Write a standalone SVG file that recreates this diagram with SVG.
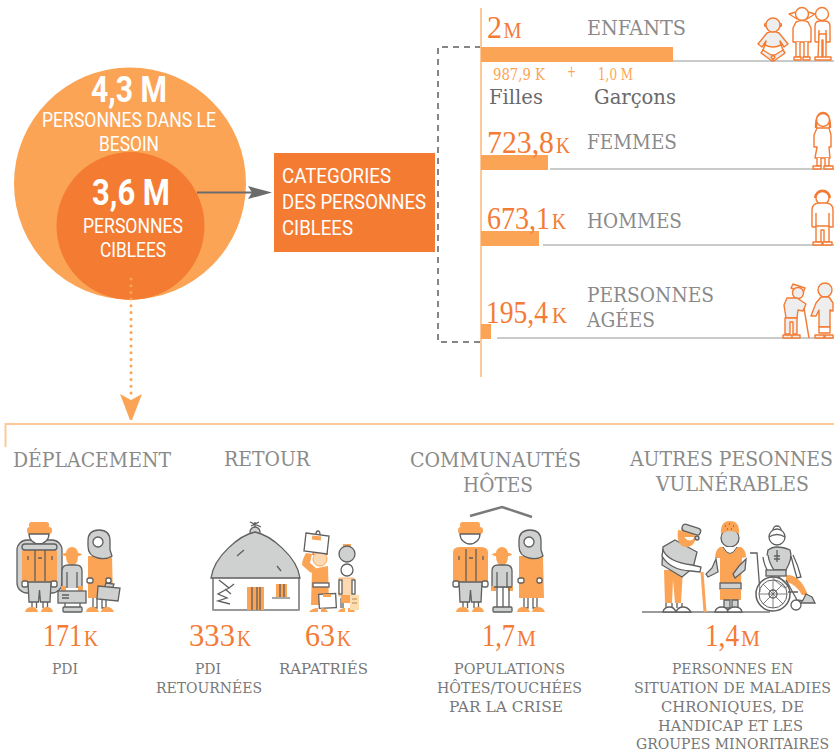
<svg xmlns="http://www.w3.org/2000/svg" xmlns:xlink="http://www.w3.org/1999/xlink" width="834" height="753" viewBox="0 0 834 753">
<style>
text{font-family:"DejaVu Serif Condensed","DejaVu Serif","Liberation Serif",serif;font-stretch:condensed}
.r{font-family:Roboto,"Liberation Sans",sans-serif;fill:#fff;font-stretch:normal}
.rb{font-weight:700;font-size:36px}
.rl{font-weight:400;font-size:20.5px}
.h{font-size:20.5px;fill:#8a8a8a}
.s{font-size:14.5px;fill:#777}
.n{font-family:"Liberation Serif",serif;font-size:32px;fill:#f47b35;font-stretch:normal}
.n2{font-size:24px}
.m{font-size:16px;fill:#fca455}
.lg{font-size:21px;fill:#6a6a6a}
.a{fill:#fca455}.d{fill:#f47b32}
.g{fill:#cfd0d0;stroke:#5f5f5f;stroke-width:1.3}
.w{fill:#fff;stroke:#5f5f5f;stroke-width:1.3}
.o{fill:#fca455}
.ol{fill:#eee;stroke:#f47b32;stroke-width:1.4;stroke-linejoin:round}
.ow{fill:#fff;stroke:#f47b32;stroke-width:1.4;stroke-linejoin:round}
.ln{fill:none;stroke:#5f5f5f;stroke-width:1.3}
.gl{fill:none;stroke:#c9cbcb;stroke-width:2}
.pl{fill:none;stroke:#fdc999;stroke-width:2}
</style>
<defs>
<g id="man">
<rect x="29" y="522" width="20" height="6" rx="2.500" class="o"/>
<rect x="27" y="527" width="25" height="7" rx="3" class="o"/>
<path d="M29,534 A10,10 0 0 0 49,534 Z" class="w"/>
<path d="M22,582 V552 Q22,547 30,547 L49,547 Q57,547 57,552 L57,582 Z" class="o"/>
<path d="M35,549 V581 M45,549 V581 M28,556 V560 M52,556 V560 M38,558 H42" class="ln"/>
<rect x="22" y="581" width="6" height="6" rx="2" class="w"/><rect x="51" y="581" width="6" height="6" rx="2" class="w"/>
<path d="M28,582 H51 L50,602 H40.500 L39.500,590 L38.500,602 H29 Z" class="g"/>
<path d="M32,602 V608 M36.500,602 V608 M43,602 V608 M47.500,602 V608" class="ln"/>
<path d="M25,612 Q26,607 32,607 Q37,607 38,612 Z M41,612 Q42,607 47,607 Q52,607 53,612 Z" class="o"/>
</g>
<g id="child">
<path d="M66,553 A6,6 0 0 1 78,553 Z" class="o"/>
<ellipse cx="72" cy="554.500" rx="10" ry="2" class="o"/>
<path d="M66,556 H78 Q78,565 72,565 Q66,565 66,556 Z" class="o"/>
<path d="M62,588 V571 Q62,565 68,565 H76 Q82,565 82,571 V588" class="g"/>
<path d="M67,572 V588 M77,572 V588" class="ln"/>
<rect x="61" y="586" width="5" height="5" class="o"/><rect x="78" y="586" width="5" height="5" class="o"/>
</g>
<g id="woman">
<path d="M88,556 H112 L113,598 H88 Z" class="o"/>
<path d="M88,546 V541 Q88,530 99,530 Q110,530 110,541 V550 L112,556 Q106,560 98,558 Q88,556 88,546 Z" class="g"/>
<circle cx="98" cy="542" r="5" class="w"/>
<rect x="87" y="578" width="6" height="5" rx="2" class="w"/>
<rect x="106" y="578" width="5" height="5" rx="2" class="w"/>
<path d="M93,598 V608 H97 V598 M102,598 V608 H106 V598" class="w"/>
<path d="M86,612 Q87,607 92,607 Q97,607 99,612 Z M101,612 Q102,607 107,607 Q112,607 114,612 Z" class="o"/>
</g>
</defs>

<g id="circle-besoin">
<circle cx="130" cy="183.500" r="116" class="a"/>
<text x="91" y="102" class="r rb" textLength="76" lengthAdjust="spacingAndGlyphs">4,3 M</text>
<text x="42" y="127" class="r rl" textLength="174" lengthAdjust="spacingAndGlyphs">PERSONNES DANS LE</text>
<text x="99" y="151" class="r rl" textLength="60" lengthAdjust="spacingAndGlyphs">BESOIN</text>
</g>
<g id="circle-ciblees">
<circle cx="130.500" cy="226" r="74" class="d"/>
<text x="92" y="205" class="r rb" textLength="78" lengthAdjust="spacingAndGlyphs">3,6 M</text>
<text x="83" y="233" class="r rl" textLength="100" lengthAdjust="spacingAndGlyphs">PERSONNES</text>
<text x="100" y="257" class="r rl" textLength="66" lengthAdjust="spacingAndGlyphs">CIBLEES</text>
</g>
<g id="categories">
<rect x="274" y="153" width="161" height="99" class="d"/>
<text x="282" y="183" class="r rl" textLength="109" lengthAdjust="spacingAndGlyphs" font-weight="300">CATEGORIES</text>
<text x="282" y="209" class="r rl" textLength="144" lengthAdjust="spacingAndGlyphs" font-weight="300">DES PERSONNES</text>
<text x="282" y="235" class="r rl" textLength="71" lengthAdjust="spacingAndGlyphs" font-weight="300">CIBLEES</text>
</g>

<g id="connectors">
<path d="M197,192.500 H252" fill="none" stroke="#6b6b6b" stroke-width="2"/>
<path d="M248,186 L272,192.500 L248,199 L252,192.500 Z" fill="#6b6b6b"/>
<path d="M481,47 H438 V342 H481" fill="none" stroke="#5f5f5f" stroke-width="1.500" stroke-dasharray="6 5"/>
<path d="M481,8 V377" class="pl"/>
<path d="M131,279 V396" fill="none" stroke="#fca455" stroke-width="3" stroke-linecap="round" stroke-dasharray="0 6.700"/>
<path d="M120,394 L131,400 L142,394 L132,420 L130,420 Z" class="a"/>
<path d="M5.500,447 V424 H834" class="pl"/>
</g>

<g id="row-enfants">
<path d="M673,61 H834" class="gl"/>
<rect x="481" y="47" width="192" height="15" class="a"/>
<text x="487" y="38" class="n" textLength="15" lengthAdjust="spacingAndGlyphs">2</text>
<text x="503.500" y="38" class="n n2" textLength="18" lengthAdjust="spacingAndGlyphs">M</text>
<text x="587" y="35" class="h" textLength="99" lengthAdjust="spacingAndGlyphs">ENFANTS</text>
<text x="493" y="80" class="m" textLength="52" lengthAdjust="spacingAndGlyphs">987,9 K</text>
<text x="567" y="77" class="m" textLength="9" lengthAdjust="spacingAndGlyphs">+</text>
<text x="598" y="80" class="m" textLength="35" lengthAdjust="spacingAndGlyphs">1,0 M</text>
<text x="489" y="104" class="lg" textLength="54" lengthAdjust="spacingAndGlyphs">Filles</text>
<text x="594" y="104" class="lg" textLength="82" lengthAdjust="spacingAndGlyphs">Garçons</text>
<g id="icon-baby">
<path d="M765,47 L761,53 L772,61 L775,57 L768,52 M781,47 L785,53 L774,61 L771,57 L778,52" class="ol"/>
<path d="M767,33 Q773,30 779,33 L788,44 L784,47 L780,41 L781,46 Q773,50 765,46 L766,41 L762,47 L758,44 Z" class="ol"/>
<path d="M765,45 Q773,49 781,45 L783,50 L775,55 H771 L763,50 Z" class="ow"/>
<circle cx="766" cy="25" r="1.500" class="ol"/><circle cx="780" cy="25" r="1.500" class="ol"/>
<circle cx="773" cy="25" r="7" class="ol"/>
</g>
<g id="icon-girl">
<path d="M796,12 L789,14 L797,19 Z M808,12 L815,14 L807,19 Z" class="ow"/>
<circle cx="802" cy="14" r="6.500" class="ow"/>
<path d="M796,22 Q802,19 808,22 L811,28 L811,42 L793,42 L793,28 Z" class="ow"/>
<path d="M796,42 V57 H800 V42 M804,42 V57 H808 V42" class="ow"/>
<path d="M794,60 V57 H801 V60 Z M803,60 V57 H810 V60 Z" class="ow"/>
</g>
<g id="icon-boy">
<circle cx="822" cy="14" r="6.500" class="ow"/>
<path d="M815,42 V26 Q815,21 820,21 H824 Q830,21 830,26 V42 H826 V30 M819,30 V42 H815" class="ow"/>
<path d="M819,34 H826 V58 H823 V40 H822 V58 H818 Z" class="ow"/>
<path d="M815,60 V57 H831 V60 Z" class="ow"/>
</g>
</g>

<g id="row-femmes">
<path d="M550,169 H834" class="gl"/>
<rect x="481" y="155" width="67" height="15" class="a"/>
<text x="487" y="153" class="n" textLength="67" lengthAdjust="spacingAndGlyphs">723,8</text>
<text x="556" y="153" class="n n2" textLength="14" lengthAdjust="spacingAndGlyphs">K</text>
<text x="587" y="149" class="h" textLength="90" lengthAdjust="spacingAndGlyphs">FEMMES</text>
<g id="icon-femme">
<path d="M816,128 Q816,113 823,113 Q830,113 830,128" fill="none" stroke="#f47b32" stroke-width="2.500"/>
<circle cx="823" cy="120" r="6.500" class="ow"/>
<path d="M817,128 H829 L831,135 V147 H829 L830,158 H815 L817,147 H814 V135 Z" class="ow"/>
<path d="M817,158 V166 H821 V158 M825,158 V166 H829 V158" class="ow"/>
<path d="M813,169 V166 H821 V169 Z M824,169 V166 H833 V169 Z" class="ow"/>
</g>
</g>

<g id="row-hommes">
<path d="M543,245 H834" class="gl"/>
<rect x="481" y="231" width="58" height="15" class="a"/>
<text x="487" y="229" class="n" textLength="63" lengthAdjust="spacingAndGlyphs">673,1</text>
<text x="552" y="229" class="n n2" textLength="14" lengthAdjust="spacingAndGlyphs">K</text>
<text x="587" y="228" class="h" textLength="95" lengthAdjust="spacingAndGlyphs">HOMMES</text>
<g id="icon-homme">
<path d="M815,198 A7.500,7.500 0 0 1 830,198" fill="none" stroke="#f47b32" stroke-width="2"/>
<circle cx="822.500" cy="198" r="6.500" class="ow"/>
<path d="M812,227 V210 Q812,204 818,203 H827 Q833,204 833,210 V227 H829 V213 M816,213 V227 H812" class="ow"/>
<path d="M816,226 H829 V242 H824 V230 H821 V242 H816 Z" class="ow"/>
<path d="M813,245 V242 H822 V245 Z M823,245 V242 H832 V245 Z" class="ow"/>
</g>
</g>

<g id="row-agees">
<path d="M497,338 H834" class="gl"/>
<rect x="481" y="324" width="10" height="15" class="a"/>
<text x="486" y="323" class="n" textLength="62" lengthAdjust="spacingAndGlyphs">195,4</text>
<text x="552" y="323" class="n n2" textLength="15" lengthAdjust="spacingAndGlyphs">K</text>
<text x="587" y="302" class="h" textLength="127" lengthAdjust="spacingAndGlyphs">PERSONNES</text>
<text x="587" y="327" class="h" textLength="68" lengthAdjust="spacingAndGlyphs">AGÉES</text>
<g id="icon-agees">
<path d="M793,284 L805,288 L803,293 L791,288 Z" class="ol"/>
<circle cx="798" cy="293" r="5.500" class="ol"/>
<path d="M787,298 L797,298 L806,304 L803,311 L798,310 L797,318 H786 L784,305 Z" class="ol"/>
<path d="M785,318 H797 V334 H793 V322 H790 V334 H785 Z" class="ol"/>
<path d="M783,338 V335 H792 V338 Z M792,338 V335 H800 V338 Z" class="ol"/>
<path d="M804,308 L809,338" fill="none" stroke="#f47b32" stroke-width="1.500"/>
<circle cx="825" cy="290" r="7" class="ol"/>
<path d="M821,297 H829 L833,303 V311 L830,310 V327 H819 V310 L816,316 L811,316 L816,303 Z" class="ol"/>
<path d="M819,327 H830 V333 H819 Z" class="ow"/>
<path d="M815,338 V335 H824 V338 Z M825,338 V335 H833 V338 Z" class="ol"/>
</g>
</g>

<g id="deplacement">
<text x="13" y="467" class="h" textLength="158" lengthAdjust="spacingAndGlyphs">DÉPLACEMENT</text>
<rect x="17" y="540" width="45" height="53" rx="10" class="g"/>
<use xlink:href="#man" href="#man"/>
<rect x="22" y="544" width="35" height="6" rx="3" class="g"/>
<use xlink:href="#child" href="#child"/>
<path d="M65,592 V608 M80,592 V608" class="ln"/>
<rect x="58" y="591" width="28" height="12" class="g"/>
<path d="M62,595 H69 M62,598 H69" class="ln"/>
<rect x="63" y="607" width="19" height="5" rx="1" class="g"/>
<use xlink:href="#woman" href="#woman"/>
<path d="M98,586 L120,588 L118,601 L97,599 Z M105,586 L106,583 L114,584 L113,587" class="g"/>
<text x="43" y="646" class="n" textLength="39" lengthAdjust="spacingAndGlyphs">171</text>
<text x="84" y="646" class="n n2" textLength="14" lengthAdjust="spacingAndGlyphs">K</text>
<text x="52" y="674" class="s" textLength="26" lengthAdjust="spacingAndGlyphs">PDI</text>
</g>

<g id="retour">
<text x="224" y="466" class="h" textLength="86" lengthAdjust="spacingAndGlyphs">RETOUR</text>
<path d="M255,528 V522 M250,522 L261,527 M251,526 L259,522" class="ln"/>
<rect x="213" y="578" width="86" height="32" fill="#fff"/>
<path d="M213,578 V610 H299 V578" class="ln"/>
<path d="M213,610 H299" stroke="#9a9a9a" stroke-width="2"/>
<ellipse cx="255" cy="532" rx="5" ry="5" class="g"/>
<path d="M211,578 C214,556 240,535 255,532 C270,535 297,556 300,578 Z" class="g"/>
<rect x="247" y="587" width="17" height="23" class="o"/>
<path d="M252,587 V610 M257,587 V610 M260,587 V610" class="ln"/>
<rect x="276" y="584" width="11" height="13" class="o"/>
<path d="M280,584 V597 M284,584 V597" class="ln"/>
<path d="M272,598 H290" stroke="#8a8a8a" stroke-width="1.500"/>
<path d="M219,580 L229,588 L218,594 L227,598 L218,601 L230,604 M229,588 L234,584 M225,589 L231,594" class="ln"/>
<path d="M237,556 L244,550 M277,566 L281,571" class="ln"/>
<path d="M306,553 Q302,560 302,565 L311,573 L316,568 L310,563 L312,554 Z" class="o"/>
<path d="M312,569 L328,566 L329,605 L311,605 Z" class="o"/>
<circle cx="320" cy="559" r="7" fill="#fcd9b0" stroke="#fca455"/>
<path d="M313,555 A7,6 0 0 1 327,555" fill="none" stroke="#f47b32" stroke-width="2"/>
<path d="M306,533 L329,536 L327,554 L304,551 Z" class="w"/>
<rect x="312" y="536" width="9" height="4" class="o" transform="rotate(6 316 538)"/>
<path d="M316,534 Q316,531 318,531 Q320,531 320,535" class="ln"/>
<rect x="313" y="583" width="16" height="4" class="w"/>
<rect x="319" y="594" width="17" height="14" class="w" transform="rotate(-3 327 601)"/>
<rect x="323" y="594" width="8" height="3" class="o"/>
<rect x="340" y="598" width="4" height="10" fill="#9a9a9a"/>
<rect x="350" y="598" width="4" height="10" fill="#9a9a9a"/>
<path d="M309,612 Q312,608 318,608 V612 Z M321,612 V608 Q326,608 328,612 Z M338,612 Q340,608 345,608 V612 Z M348,612 V608 Q354,608 355,612 Z" class="o"/>
<rect x="343" y="544" width="8" height="3" class="o"/>
<circle cx="347" cy="554" r="8" class="g"/>
<circle cx="347" cy="570" r="6" class="w"/>
<path d="M339,578 H354 V596 H339 Z" fill="#fcd9b0" stroke="#fca455" stroke-width=".8"/>
<rect x="339" y="580" width="3" height="14" class="w"/><rect x="352" y="580" width="3" height="14" class="w"/>
<rect x="341" y="595" width="12" height="8" class="o"/>
<rect x="350" y="595" width="9" height="15" fill="#fddcb0"/>
<path d="M352,599 H357 M352,603 H357" stroke="#b78a4f"/>
<text x="189" y="646" class="n" textLength="46" lengthAdjust="spacingAndGlyphs">333</text>
<text x="237" y="646" class="n n2" textLength="14" lengthAdjust="spacingAndGlyphs">K</text>
<text x="305" y="646" class="n" textLength="30" lengthAdjust="spacingAndGlyphs">63</text>
<text x="337" y="646" class="n n2" textLength="14" lengthAdjust="spacingAndGlyphs">K</text>
<text x="195" y="674" class="s" textLength="26" lengthAdjust="spacingAndGlyphs">PDI</text>
<text x="156" y="693" class="s" textLength="106" lengthAdjust="spacingAndGlyphs">RETOURNÉES</text>
<text x="279" y="674" class="s" textLength="89" lengthAdjust="spacingAndGlyphs">RAPATRIÉS</text>
</g>

<g id="communautes">
<text x="410" y="467" class="h" textLength="171" lengthAdjust="spacingAndGlyphs">COMMUNAUTÉS</text>
<text x="463" y="492" class="h" textLength="70" lengthAdjust="spacingAndGlyphs">HÔTES</text>
<path d="M470,516 L502,507 L532,517" fill="none" stroke="#7a7a7a" stroke-width="2.500"/>
<use xlink:href="#man" href="#man" x="431"/>
<use xlink:href="#child" href="#child" x="430"/>
<path d="M497,587 V608 M503,587 V608 M509,587 V608 M494,587 H512" class="ln"/>
<rect x="493" y="607" width="19" height="5" rx="1" class="g"/>
<use xlink:href="#woman" href="#woman" x="431"/>
<text x="482" y="646" class="n" textLength="33" lengthAdjust="spacingAndGlyphs">1,7</text>
<text x="517" y="646" class="n n2" textLength="19" lengthAdjust="spacingAndGlyphs">M</text>
<text x="454" y="674" class="s" textLength="111" lengthAdjust="spacingAndGlyphs">POPULATIONS</text>
<text x="437" y="693" class="s" textLength="145" lengthAdjust="spacingAndGlyphs">HÔTES/TOUCHÉES</text>
<text x="449" y="712" class="s" textLength="114" lengthAdjust="spacingAndGlyphs">PAR LA CRISE</text>
</g>

<g id="autres">
<text x="630" y="466" class="h" textLength="203" lengthAdjust="spacingAndGlyphs">AUTRES PESONNES</text>
<text x="656" y="491" class="h" textLength="153" lengthAdjust="spacingAndGlyphs">VULNÉRABLES</text>
<path d="M642,612 H770" stroke="#7a7a7a" stroke-width="1.500"/>
<path d="M664,570 H683 L681,603 H675 L673,580 L672,603 H665 Z" class="o"/>
<path d="M666,603 V608 M672,603 V608 M677,603 V608 M682,603 V608" class="ln"/>
<path d="M663,612 Q664,607 670,607 Q674,607 676,612 Z M676,612 Q678,607 683,607 Q688,607 691,612 Z" class="w"/>
<path d="M675,540 L697,552 L693,568 L682,577 L662,565 L663,547 Z" class="g"/>
<path d="M663,550 Q668,562 692,565 L701,567 L700,572 L691,571 Q670,570 662,556 Z" class="w"/>
<path d="M678,530 Q676,545 685,547 Q695,547 696,537 L692,532 Z" class="o"/>
<path d="M684,537 Q690,544 695,537 Z" fill="#fff"/>
<circle cx="697" cy="538" r="2" class="g"/>
<rect x="682" y="526" width="19" height="7" rx="3" transform="rotate(18 691 529)" class="g"/>
<path d="M702,572 L705,612" stroke="#fca455" stroke-width="3"/>
<circle cx="730" cy="538" r="9" class="g"/>
<path d="M721,534 Q720,521 730,521 Q740,521 739,534 Q730,528 721,534 Z" class="o"/>
<path d="M725,526 h.8 M729,524 h.8 M733,526 h.8 M727,529 h.8 M731,529 h.8" class="ln"/>
<path d="M720,547 H741 Q746,550 746,557 L742,558 L741,583 H720 L720,558 L715,558 Q715,550 720,547 Z" class="o"/>
<path d="M723,547 Q730,560 737,547" fill="#fff" stroke="#5f5f5f"/>
<path d="M716,559 L718,572 L708,577 L706,574 L712,568 Z M746,559 L745,570 L735,578 L733,574 L739,566 Z" class="g"/>
<rect x="720" y="583" width="21" height="6" class="g"/>
<rect x="720" y="589" width="21" height="11" class="o"/>
<path d="M724,600 H730 V608 H724 Z M732,600 H738 V608 H732 Z" class="g"/>
<path d="M715,612 Q716,607 722,607 Q727,607 728,612 Z M727,612 Q729,607 735,607 Q741,607 742,612 Z" class="w"/>
<circle cx="777" cy="530" r="4" class="w"/>
<circle cx="777" cy="537" r="8" class="w"/>
<path d="M769,537 Q777,532 785,537" class="ln"/>
<path d="M768,550 Q765,560 772,570 H786 Q793,558 790,550 Q784,547 776,547 Q772,547 768,550 Z" class="g"/>
<path d="M777,550 V562 M774,556 H780 M774,559 H780" class="ln"/>
<path d="M750,553 H757 L760,592" class="ln"/>
<path d="M786,575 Q800,574 808,595 H802 Q796,584 786,582 Z" class="o"/>
<path d="M763,557 Q765,575 785,588 L788,586 Q770,570 768,555 M791,556 Q794,568 797,578 L801,577 Q798,565 793,555" class="w"/>
<rect x="766" y="570" width="20" height="6" class="g"/>
<circle cx="773" cy="594" r="17" fill="#fff" fill-opacity=".4" stroke="#5f5f5f" stroke-width="1.500"/>
<circle cx="773" cy="594" r="14" fill="none" stroke="#5f5f5f"/>
<circle cx="773" cy="594" r="4" class="w"/>
<path d="M773,580 V608 M759,594 H787 M763,584 L783,604 M783,584 L763,604" stroke="#5f5f5f" stroke-width=".8"/>
<path d="M786,580 L797,600 L812,602 M788,592 H798" class="ln"/>
<path d="M803,600 L806,594 L812,597 L815,603 L800,603 Z" class="g"/>
<circle cx="796" cy="605" r="5" class="w"/>
<text x="705" y="646" class="n" textLength="34" lengthAdjust="spacingAndGlyphs">1,4</text>
<text x="741" y="646" class="n n2" textLength="19" lengthAdjust="spacingAndGlyphs">M</text>
<text x="672" y="674" class="s" textLength="121" lengthAdjust="spacingAndGlyphs">PERSONNES EN</text>
<text x="634" y="693" class="s" textLength="197" lengthAdjust="spacingAndGlyphs">SITUATION DE MALADIES</text>
<text x="661" y="712" class="s" textLength="143" lengthAdjust="spacingAndGlyphs">CHRONIQUES, DE</text>
<text x="658" y="731" class="s" textLength="145" lengthAdjust="spacingAndGlyphs">HANDICAP ET LES</text>
<text x="636" y="749" class="s" textLength="193" lengthAdjust="spacingAndGlyphs">GROUPES MINORITAIRES</text>
</g>
</svg>
